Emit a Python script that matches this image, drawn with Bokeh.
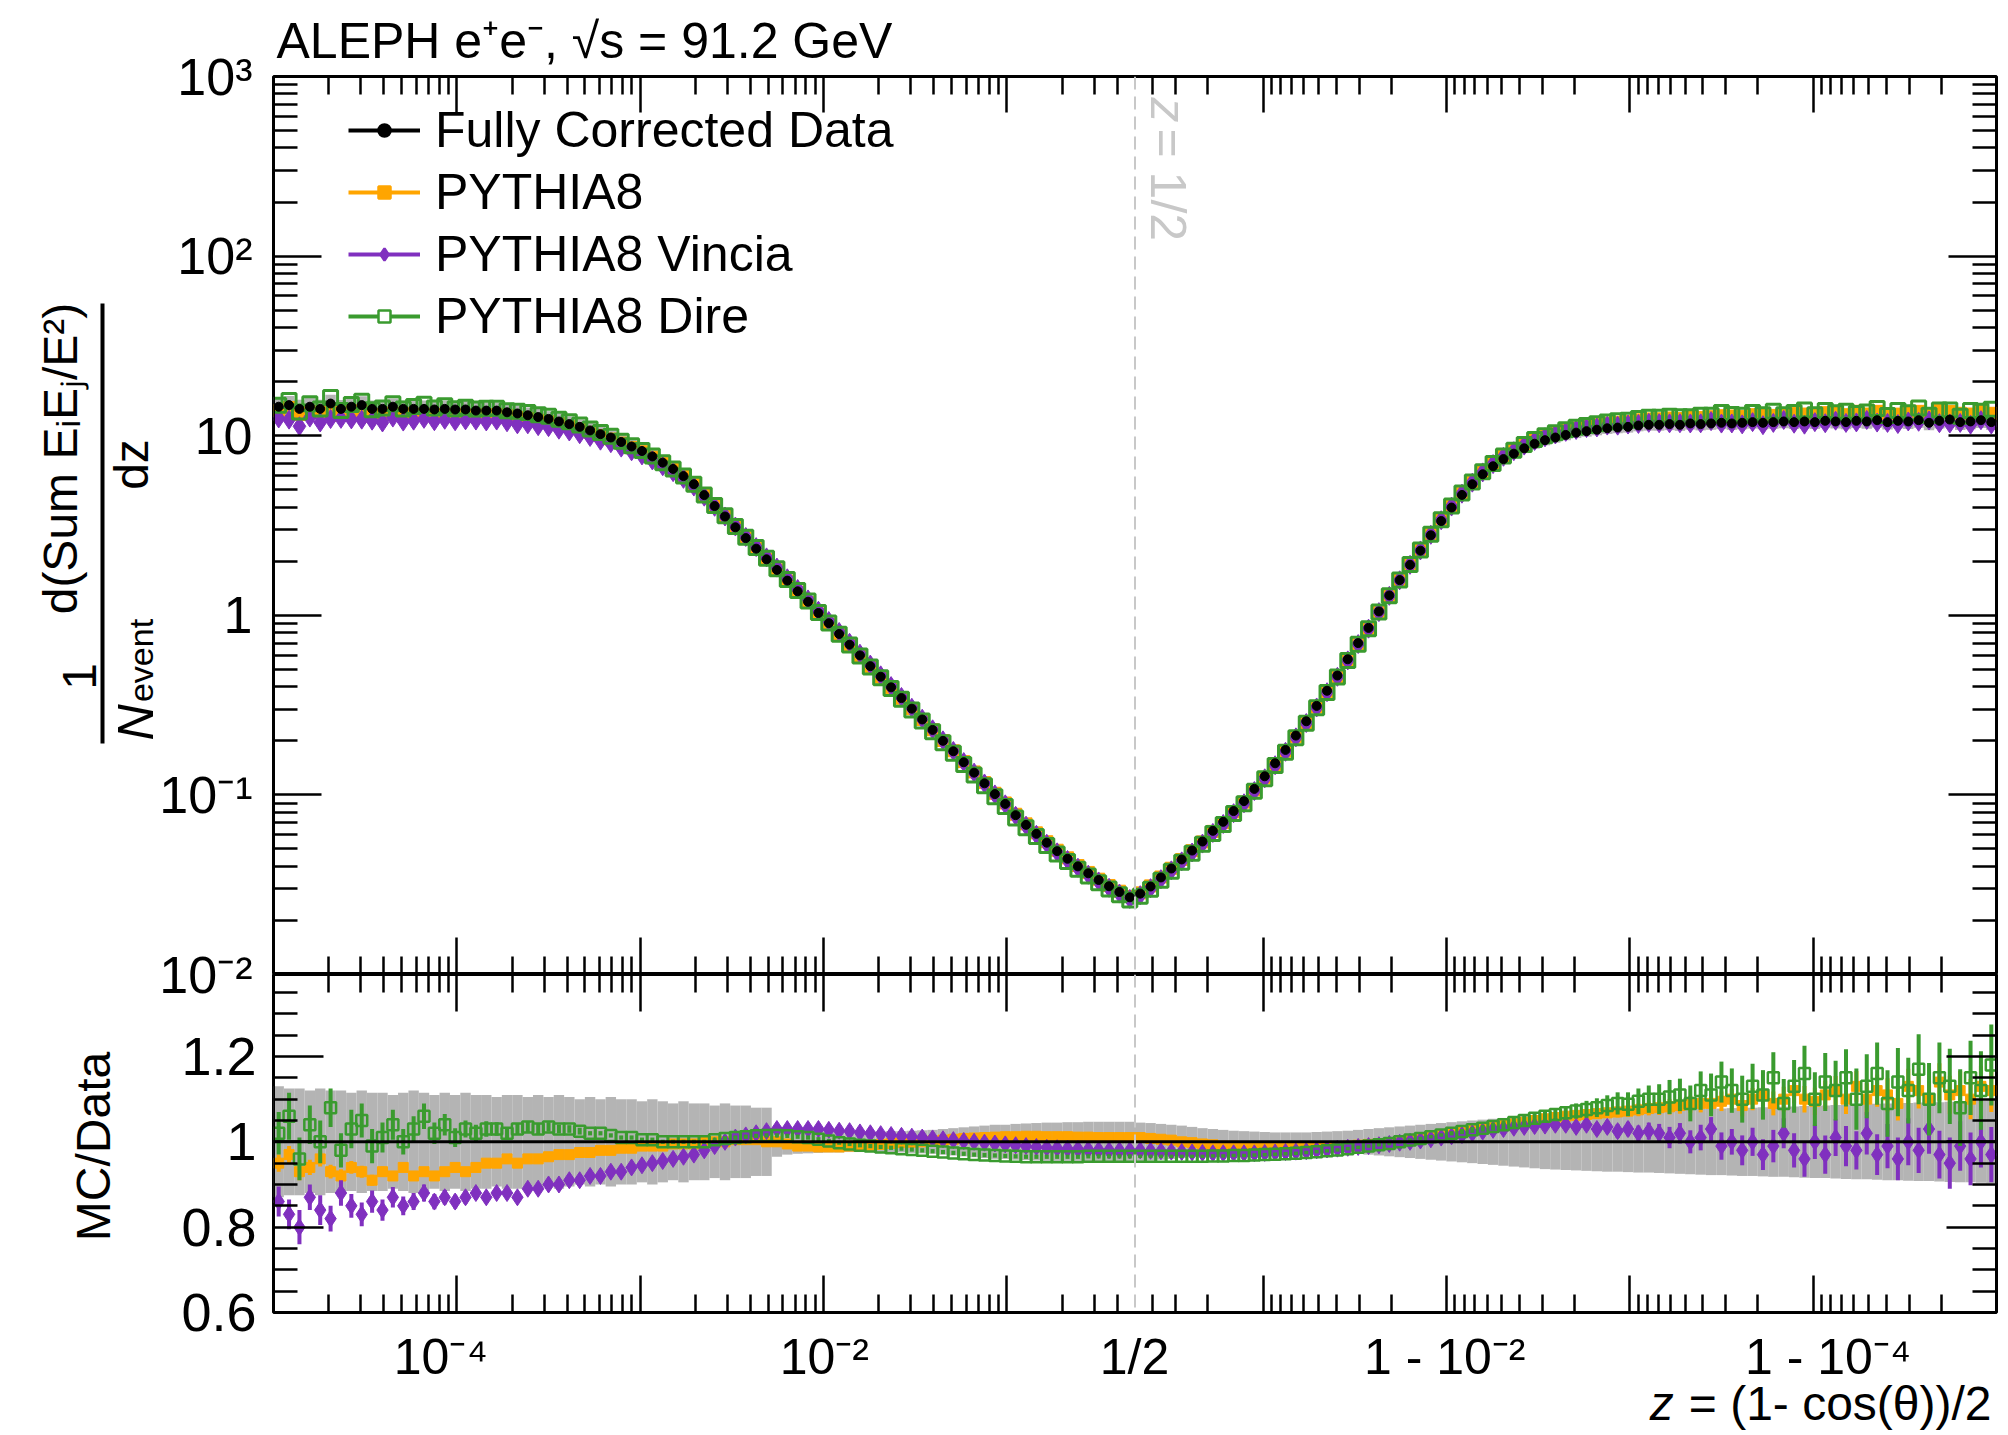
import numpy as np
from bokeh.plotting import figure
from bokeh.models import (Range1d, FixedTicker, LinearAxis, LogAxis, Label, Span,
                          Legend, LegendItem, CustomJSTickFormatter, ColumnDataSource)
from bokeh.layouts import column, row
from bokeh.embed import file_html
from bokeh.resources import INLINE

FONT = "Liberation Sans"

# ---------------- binning ----------------
Z_MIN = 1e-5          # lowest z edge
N_HALF = 83           # log bins on each side of z = 1/2

# ---------------- data ----------------
# left half: z from 1e-5 up to 1/2 ; right half: z from 1/2 up to 1-1e-5
data_left = [14.5, 14.8, 14.1, 14.5, 14.1, 15.1, 14.1, 14.5, 14.8, 14.1,
             14.1, 14.5, 14.1, 14.1, 14.1, 14.0, 14.1, 14.0, 14.0, 13.8,
             13.8, 13.8, 13.5, 13.3, 13.0, 12.7, 12.4, 12.0, 11.6, 11.2,
             10.7, 10.2, 9.77, 9.23, 8.71, 8.22, 7.67, 7.08, 6.53, 5.96,
             5.37, 4.67, 4.06, 3.55, 3.09, 2.69, 2.35, 2.05, 1.79, 1.56,
             1.36, 1.19, 1.03, 0.904, 0.787, 0.686, 0.598, 0.521, 0.455, 0.397,
             0.346, 0.302, 0.263, 0.230, 0.200, 0.175, 0.152, 0.133, 0.116, 0.101,
             0.0891, 0.0771, 0.0681, 0.0607, 0.0542, 0.0486, 0.0441, 0.0400, 0.0366, 0.0336,
             0.0310, 0.0288, 0.0269]
data_right = [0.0282, 0.0309, 0.0347, 0.0389, 0.0437, 0.0490, 0.0550, 0.0631, 0.0708, 0.0813,
              0.0923, 0.108, 0.127, 0.150, 0.178, 0.214, 0.257, 0.313, 0.380, 0.462,
              0.569, 0.700, 0.851, 1.05, 1.29, 1.57, 1.91, 2.29, 2.79, 3.35,
              3.98, 4.68, 5.37, 6.10, 6.76, 7.41, 7.94, 8.51, 9.02, 9.44,
              9.77, 10.1, 10.4, 10.6, 10.8, 11.0, 11.1, 11.2, 11.4, 11.5,
              11.5, 11.6, 11.5, 11.7, 11.6, 11.7, 11.8, 11.7, 11.8, 11.9,
              11.8, 11.9, 12.0, 11.9, 12.0, 11.9, 12.1, 12.0, 11.9, 12.1,
              12.0, 12.2, 11.9, 12.1, 12.0, 12.2, 11.8, 12.1, 12.3, 11.9,
              12.0, 12.2, 11.9]
# relative systematic uncertainty of the data (grey band)
band_left = [0.13, 0.125, 0.125, 0.12, 0.125, 0.12, 0.12, 0.115, 0.12, 0.115,
             0.115, 0.11, 0.115, 0.12, 0.115, 0.11, 0.115, 0.11, 0.115, 0.11,
             0.11, 0.105, 0.11, 0.11, 0.105, 0.11, 0.105, 0.11, 0.105, 0.10,
             0.105, 0.10, 0.105, 0.10, 0.10, 0.095, 0.10, 0.095, 0.09, 0.095,
             0.09, 0.09, 0.085, 0.09, 0.085, 0.085, 0.08, 0.08, 0.035, 0.03,
             0.028, 0.027, 0.026, 0.025, 0.025, 0.024, 0.024, 0.024, 0.024, 0.025,
             0.025, 0.026, 0.027, 0.028, 0.03, 0.032, 0.034, 0.036, 0.038, 0.04,
             0.04, 0.042, 0.043, 0.044, 0.045, 0.045, 0.046, 0.046, 0.047, 0.047,
             0.047, 0.047, 0.047]
band_right = [0.045, 0.044, 0.042, 0.04, 0.038, 0.035, 0.032, 0.03, 0.028, 0.026,
              0.025, 0.024, 0.023, 0.022, 0.022, 0.022, 0.022, 0.023, 0.024, 0.025,
              0.026, 0.028, 0.03, 0.032, 0.034, 0.036, 0.038, 0.04, 0.042, 0.044,
              0.046, 0.048, 0.05, 0.052, 0.054, 0.056, 0.058, 0.06, 0.062, 0.064,
              0.065, 0.066, 0.067, 0.068, 0.069, 0.07, 0.07, 0.071, 0.072, 0.072,
              0.073, 0.074, 0.075, 0.076, 0.077, 0.078, 0.078, 0.079, 0.08, 0.08,
              0.081, 0.082, 0.082, 0.083, 0.084, 0.085, 0.085, 0.086, 0.087, 0.088,
              0.088, 0.089, 0.09, 0.09, 0.091, 0.092, 0.092, 0.093, 0.094, 0.095,
              0.095, 0.096, 0.097]
# MC / Data ratios
p8_left = [0.95, 0.97, 0.93, 0.94, 0.96, 0.93, 0.92, 0.94, 0.93, 0.91,
           0.93, 0.92, 0.94, 0.92, 0.93, 0.92, 0.93, 0.94, 0.93, 0.94,
           0.95, 0.95, 0.96, 0.95, 0.96, 0.96, 0.965, 0.97, 0.97, 0.975,
           0.975, 0.98, 0.98, 0.985, 0.985, 0.99, 0.99, 0.99, 0.995, 0.995,
           0.995, 1.0, 1.0, 1.0, 1.005, 1.005, 1.005, 1.0, 1.0, 0.995,
           0.99, 0.99, 0.988, 0.988, 0.988, 0.99, 0.99, 0.992, 0.994, 0.996,
           0.998, 0.999, 1.0, 1.002, 1.004, 1.006, 1.008, 1.009, 1.01, 1.011,
           1.012, 1.012, 1.013, 1.013, 1.012, 1.012, 1.012, 1.011, 1.011, 1.01,
           1.01, 1.01, 1.01]
p8_right = [1.01, 1.008, 1.006, 1.004, 1.0, 0.998, 0.995, 0.993, 0.99, 0.99,
            0.988, 0.987, 0.986, 0.985, 0.985, 0.985, 0.985, 0.986, 0.987, 0.988,
            0.99, 0.992, 0.994, 0.996, 0.998, 1.0, 1.003, 1.006, 1.01, 1.014,
            1.018, 1.022, 1.026, 1.03, 1.034, 1.038, 1.042, 1.046, 1.05, 1.054,
            1.057, 1.06, 1.062, 1.064, 1.066, 1.068, 1.07, 1.072, 1.075, 1.078,
            1.08, 1.082, 1.085, 1.088, 1.09, 1.09, 1.095, 1.1, 1.085, 1.1,
            1.11, 1.09, 1.1, 1.12, 1.1, 1.095, 1.11, 1.12, 1.1, 1.13,
            1.1, 1.12, 1.11, 1.09, 1.13, 1.12, 1.1, 1.14, 1.11, 1.12,
            1.1, 1.13, 1.12]
vin_left = [0.86, 0.83, 0.80, 0.87, 0.84, 0.82, 0.88, 0.85, 0.83, 0.86,
            0.84, 0.87, 0.85, 0.86, 0.88, 0.86, 0.87, 0.86, 0.87, 0.88,
            0.87, 0.88, 0.88, 0.87, 0.89, 0.89, 0.90, 0.90, 0.91, 0.91,
            0.92, 0.92, 0.93, 0.93, 0.94, 0.945, 0.95, 0.955, 0.96, 0.965,
            0.97, 0.98, 0.99, 1.0, 1.01, 1.015, 1.02, 1.025, 1.03, 1.03,
            1.03, 1.03, 1.03, 1.028, 1.026, 1.025, 1.022, 1.02, 1.018, 1.016,
            1.014, 1.012, 1.01, 1.008, 1.006, 1.004, 1.002, 1.0, 0.998, 0.996,
            0.994, 0.992, 0.99, 0.988, 0.986, 0.985, 0.984, 0.983, 0.982, 0.981,
            0.98, 0.98, 0.98]
vin_right = [0.98, 0.979, 0.978, 0.977, 0.976, 0.975, 0.974, 0.973, 0.973, 0.973,
             0.973, 0.973, 0.974, 0.975, 0.976, 0.977, 0.978, 0.98, 0.982, 0.984,
             0.986, 0.988, 0.99, 0.992, 0.995, 0.998, 1.0, 1.003, 1.006, 1.01,
             1.013, 1.016, 1.02, 1.024, 1.028, 1.03, 1.033, 1.035, 1.037, 1.038,
             1.04, 1.04, 1.035, 1.04, 1.03, 1.035, 1.025, 1.03, 1.02, 1.025,
             1.02, 1.01, 1.02, 1.0, 1.01, 1.03, 0.99, 1.0, 0.98, 1.0,
             0.97, 0.99, 1.02, 0.98, 0.96, 1.0, 0.97, 1.01, 0.99, 0.98,
             1.02, 0.97, 0.99, 0.96, 1.0, 0.98, 1.03, 0.97, 0.95, 0.99,
             0.96, 1.0, 0.97]
dire_left = [1.02, 1.06, 0.96, 1.04, 1.0, 1.08, 0.98, 1.03, 1.05, 0.99,
             1.01, 1.04, 1.0, 1.03, 1.06, 1.02, 1.04, 1.01, 1.03, 1.02,
             1.03, 1.03, 1.02, 1.03, 1.035, 1.03, 1.035, 1.03, 1.03, 1.025,
             1.02, 1.02, 1.015, 1.01, 1.01, 1.005, 1.005, 1.0, 1.0, 1.0,
             1.0, 1.0, 1.005, 1.008, 1.01, 1.012, 1.014, 1.015, 1.015, 1.014,
             1.012, 1.01, 1.006, 1.002, 0.998, 0.995, 0.992, 0.99, 0.988, 0.986,
             0.984, 0.982, 0.98, 0.978, 0.976, 0.974, 0.972, 0.97, 0.969, 0.968,
             0.967, 0.966, 0.965, 0.965, 0.965, 0.965, 0.965, 0.965, 0.966, 0.966,
             0.966, 0.966, 0.966]
dire_right = [0.966, 0.966, 0.966, 0.966, 0.966, 0.966, 0.966, 0.967, 0.967, 0.968,
              0.968, 0.969, 0.97, 0.971, 0.972, 0.973, 0.975, 0.977, 0.979, 0.981,
              0.984, 0.987, 0.99, 0.993, 0.996, 1.0, 1.004, 1.008, 1.012, 1.016,
              1.02, 1.024, 1.028, 1.032, 1.036, 1.04, 1.045, 1.05, 1.055, 1.06,
              1.064, 1.068, 1.072, 1.076, 1.08, 1.085, 1.09, 1.088, 1.095, 1.10,
              1.1, 1.105, 1.11, 1.09, 1.12, 1.11, 1.14, 1.12, 1.1, 1.13,
              1.11, 1.15, 1.09, 1.13, 1.16, 1.1, 1.14, 1.12, 1.15, 1.1,
              1.13, 1.16, 1.09, 1.14, 1.12, 1.17, 1.1, 1.15, 1.13, 1.08,
              1.15, 1.12, 1.18]
# statistical errors on the ratios
err_p8_left = [0.02, 0.02, 0.02, 0.018, 0.018, 0.016, 0.016, 0.015, 0.014, 0.013,
               0.012, 0.011, 0.01, 0.01, 0.009, 0.009, 0.008, 0.008, 0.007, 0.007,
               0.006, 0.006, 0.006, 0.005, 0.005, 0.005, 0.005, 0.004, 0.004, 0.004,
               0.003, 0.003, 0.003, 0.003, 0.003, 0.003, 0.003, 0.003, 0.003, 0.003,
               0.003, 0.003, 0.003, 0.003, 0.003, 0.003, 0.003, 0.003, 0.003, 0.003,
               0.003, 0.003, 0.003, 0.003, 0.003, 0.003, 0.003, 0.003, 0.003, 0.003,
               0.003, 0.003, 0.003, 0.003, 0.003, 0.003, 0.003, 0.003, 0.003, 0.003,
               0.003, 0.003, 0.003, 0.003, 0.003, 0.003, 0.003, 0.003, 0.003, 0.003,
               0.003, 0.003, 0.003]
err_p8_right = [0.003, 0.003, 0.003, 0.003, 0.003, 0.003, 0.003, 0.003, 0.003, 0.003,
                0.003, 0.003, 0.003, 0.003, 0.003, 0.003, 0.003, 0.003, 0.003, 0.003,
                0.003, 0.003, 0.003, 0.003, 0.003, 0.003, 0.003, 0.003, 0.003, 0.003,
                0.004, 0.004, 0.005, 0.005, 0.005, 0.006, 0.006, 0.007, 0.007, 0.008,
                0.008, 0.009, 0.01, 0.01, 0.011, 0.012, 0.013, 0.014, 0.015, 0.016,
                0.017, 0.018, 0.019, 0.02, 0.021, 0.022, 0.023, 0.024, 0.025, 0.026,
                0.027, 0.028, 0.029, 0.03, 0.031, 0.032, 0.033, 0.034, 0.035, 0.036,
                0.037, 0.038, 0.039, 0.04, 0.041, 0.042, 0.043, 0.044, 0.045, 0.046,
                0.047, 0.048, 0.05]
err_vin_left = [0.035, 0.035, 0.04, 0.03, 0.035, 0.03, 0.03, 0.028, 0.028, 0.026,
                0.025, 0.024, 0.022, 0.02, 0.02, 0.018, 0.017, 0.016, 0.015, 0.014,
                0.013, 0.012, 0.011, 0.01, 0.01, 0.009, 0.008, 0.008, 0.007, 0.007,
                0.004, 0.004, 0.004, 0.004, 0.004, 0.004, 0.004, 0.004, 0.004, 0.004,
                0.004, 0.004, 0.004, 0.004, 0.004, 0.004, 0.004, 0.004, 0.004, 0.004,
                0.004, 0.004, 0.004, 0.004, 0.004, 0.004, 0.004, 0.004, 0.004, 0.004,
                0.004, 0.004, 0.004, 0.004, 0.004, 0.004, 0.004, 0.004, 0.004, 0.004,
                0.004, 0.004, 0.004, 0.004, 0.004, 0.004, 0.004, 0.004, 0.004, 0.004,
                0.004, 0.004, 0.004]
err_vin_right = [0.003, 0.003, 0.003, 0.003, 0.003, 0.003, 0.003, 0.003, 0.003, 0.003,
                 0.003, 0.003, 0.003, 0.003, 0.003, 0.003, 0.003, 0.003, 0.003, 0.003,
                 0.003, 0.003, 0.003, 0.003, 0.003, 0.003, 0.003, 0.003, 0.003, 0.003,
                 0.004, 0.004, 0.005, 0.005, 0.006, 0.006, 0.007, 0.008, 0.008, 0.009,
                 0.01, 0.011, 0.012, 0.013, 0.014, 0.015, 0.016, 0.017, 0.018, 0.02,
                 0.022, 0.025, 0.024, 0.027, 0.03, 0.028, 0.032, 0.03, 0.035, 0.033,
                 0.036, 0.038, 0.035, 0.04, 0.042, 0.04, 0.045, 0.043, 0.047, 0.045,
                 0.05, 0.048, 0.052, 0.05, 0.055, 0.053, 0.058, 0.056, 0.06, 0.058,
                 0.062, 0.06, 0.065]
err_dire_left = [0.05, 0.055, 0.05, 0.045, 0.05, 0.045, 0.04, 0.045, 0.04, 0.04,
                 0.035, 0.035, 0.03, 0.03, 0.03, 0.025, 0.025, 0.022, 0.02, 0.02,
                 0.018, 0.016, 0.015, 0.014, 0.013, 0.012, 0.011, 0.01, 0.009, 0.008,
                 0.005, 0.005, 0.005, 0.005, 0.005, 0.005, 0.005, 0.005, 0.005, 0.005,
                 0.005, 0.005, 0.005, 0.005, 0.005, 0.005, 0.005, 0.005, 0.005, 0.005,
                 0.005, 0.005, 0.005, 0.005, 0.005, 0.005, 0.005, 0.005, 0.005, 0.005,
                 0.005, 0.005, 0.005, 0.005, 0.005, 0.005, 0.005, 0.005, 0.005, 0.005,
                 0.005, 0.005, 0.005, 0.005, 0.005, 0.005, 0.005, 0.005, 0.005, 0.005,
                 0.005, 0.005, 0.005]
err_dire_right = [0.004, 0.004, 0.004, 0.004, 0.004, 0.004, 0.004, 0.004, 0.004, 0.004,
                  0.004, 0.004, 0.004, 0.004, 0.004, 0.004, 0.004, 0.004, 0.004, 0.004,
                  0.004, 0.004, 0.004, 0.004, 0.004, 0.004, 0.004, 0.004, 0.004, 0.004,
                  0.005, 0.006, 0.007, 0.008, 0.009, 0.01, 0.011, 0.012, 0.013, 0.014,
                  0.015, 0.016, 0.018, 0.02, 0.022, 0.024, 0.026, 0.028, 0.03, 0.032,
                  0.035, 0.04, 0.038, 0.042, 0.045, 0.05, 0.048, 0.052, 0.055, 0.053,
                  0.058, 0.06, 0.057, 0.062, 0.065, 0.063, 0.068, 0.07, 0.067, 0.072,
                  0.075, 0.073, 0.078, 0.08, 0.077, 0.082, 0.085, 0.083, 0.088, 0.09,
                  0.087, 0.092, 0.095]

# axis text
y_up_ticks = [1e-2, 1e-1, 1, 10, 100, 1000]
y_up_labels = ["10\u207b\u00b2", "10\u207b\u00b9", "1", "10", "10\u00b2", "10\u00b3"]
y_lo_ticks = [0.6, 0.8, 1.0, 1.2]
y_lo_labels = ["0.6", "0.8", "1", "1.2"]
x_tick_label_z = [1e-4, 1e-2, 0.5, 1 - 1e-2, 1 - 1e-4]
x_tick_label_text = ["10\u207b\u2074", "10\u207b\u00b2", "1/2", "1 - 10\u207b\u00b2", "1 - 10\u207b\u2074"]
legend_labels = ["Fully Corrected Data", "PYTHIA8", "PYTHIA8 Vincia", "PYTHIA8 Dire"]

C_BAND = "#b4b4b4"
C_P8 = "#ffa500"
C_VIN = "#8030bf"
C_DIRE = "#3a9b2f"


# ---------------- double-log coordinate ----------------
def zt(z):
    z = np.atleast_1d(np.asarray(z, dtype=float))
    out = np.empty_like(z)
    lo_ = z <= 0.5
    out[lo_] = np.log10(z[lo_])
    out[~lo_] = 2 * np.log10(0.5) - np.log10(1.0 - z[~lo_])
    return out


edges_left = np.logspace(np.log10(Z_MIN), np.log10(0.5), N_HALF + 1)
edges_right = 1.0 - edges_left[::-1]
z_edges = np.concatenate([edges_left, edges_right[1:]])
t_edges = zt(z_edges)
t_lo, t_hi = t_edges[:-1], t_edges[1:]
t_c = 0.5 * (t_lo + t_hi)

T_MIN = float(zt(Z_MIN)[0])
T_MAX = float(zt(1 - Z_MIN)[0])

data = np.array(data_left + data_right)
band = np.array(band_left + band_right)
r_p8 = np.array(p8_left + p8_right)
r_vin = np.array(vin_left + vin_right)
r_dire = np.array(dire_left + dire_right)
e_p8 = np.array(err_p8_left + err_p8_right)
e_vin = np.array(err_vin_left + err_vin_right)
e_dire = np.array(err_dire_left + err_dire_right)

src = ColumnDataSource(dict(
    x=t_c, l=t_lo, r=t_hi, data=data,
    d_lo=data * (1 - band), d_hi=data * (1 + band),
    b_lo=1 - band, b_hi=1 + band,
    p8=data * r_p8, vin=data * r_vin, dire=data * r_dire,
    rp8=r_p8, rvin=r_vin, rdire=r_dire,
    rp8_lo=r_p8 - e_p8, rp8_hi=r_p8 + e_p8,
    rvin_lo=r_vin - e_vin, rvin_hi=r_vin + e_vin,
    rdire_lo=r_dire - e_dire, rdire_hi=r_dire + e_dire,
))

# ticks of the double-log x axis
maj_z = [10.0 ** k for k in range(-5, 0)] + [1 - 10.0 ** k for k in range(-1, -6, -1)]
min_z = []
for k in range(-5, 0):
    for m in range(2, 10):
        v = m * 10.0 ** k
        if v < 0.5:
            min_z += [v, 1 - v]
x_ticker = FixedTicker(ticks=list(zt(maj_z)), minor_ticks=list(zt(min_z)))

# ---------------- page geometry (pixels of the page) ----------------
PAGE_L, PAGE_T = 0, 0
PAGE_R, PAGE_B = 2000, 1433
FL, FR = 273, 1996          # frame left / right
UT, UB, LB = 76, 974, 1312  # upper frame top, panels boundary, lower frame bottom
TOP_END = UT - 2            # end of the title strip
GUT_R = FL - 3              # right end of the left gutter
LOW_END = LB + 2
FW = FR - FL
UH = UB - UT
LH = LB - UB
LO_MIN, LO_MAX = 0.6, 0.6 + LH / 426.7


def tx(px):
    """page x -> double-log coordinate"""
    return T_MIN + (px - FL) * (T_MAX - T_MIN) / FW


def up_py(v):
    """value on the upper log axis -> page y"""
    return UT + (3 - np.log10(v)) * UH / 5.0


def lo_py(r):
    """value on the ratio axis -> page y"""
    return UB + (LO_MAX - r) * LH / (LO_MAX - LO_MIN)


BLANK = CustomJSTickFormatter(code="return '';")


def style_axis(ax, tin, tmin, fixed):
    ax.major_tick_in = tin
    ax.major_tick_out = 0
    ax.minor_tick_in = tmin
    ax.minor_tick_out = 0
    ax.major_tick_line_width = 2.5
    ax.minor_tick_line_width = 2.5
    ax.axis_line_width = 3
    ax.formatter = BLANK
    ax.major_label_text_font_size = "1px"
    ax.major_label_standoff = 0
    ax.fixed_location = fixed


def blank_fig(w, h, xr, yr):
    f = figure(width=w, height=h, x_range=xr, y_range=yr, min_border=0, title=None,
               x_axis_location=None, y_axis_location=None,
               output_backend="svg", toolbar_location=None)
    f.outline_line_color = None
    f.grid.visible = False
    return f


def text(f, x, y, s, size, align="center", baseline="middle", angle=0.0,
         style="normal", color="black"):
    f.add_layout(Label(x=x, y=y, text=s, text_align=align, text_baseline=baseline,
                       angle=angle, text_font=FONT, text_font_size=size,
                       text_font_style=style, text_color=color))


# ---------------- upper panel ----------------
up = figure(width=PAGE_R - GUT_R, height=UB - TOP_END, title=None,
            x_range=Range1d(T_MIN, T_MAX), y_range=Range1d(1e-2, 1e3),
            y_axis_type="log", output_backend="svg", toolbar_location=None,
            min_border_left=FL - GUT_R, min_border_right=PAGE_R - FR,
            min_border_top=UT - TOP_END, min_border_bottom=0)
up.grid.visible = False
up.outline_line_color = "black"
up.outline_line_width = 3
y_up_ticker = FixedTicker(ticks=y_up_ticks,
                          minor_ticks=[m * 10.0 ** k for k in range(-2, 3) for m in range(2, 10)])
up.xaxis.ticker = x_ticker
style_axis(up.xaxis[0], 37, 18, 1e-2)
up.yaxis.ticker = y_up_ticker
style_axis(up.yaxis[0], 48, 24, T_MIN)
ax_top = LinearAxis(ticker=x_ticker)
style_axis(ax_top, 36, 18, 1e3)
up.add_layout(ax_top, "above")
ax_r = LogAxis(ticker=y_up_ticker)
style_axis(ax_r, 48, 24, T_MAX)
up.add_layout(ax_r, "right")

up.quad(left="l", right="r", bottom="d_lo", top="d_hi", source=src,
        fill_color=C_BAND, line_color=None)
up.scatter("x", "p8", source=src, marker="square", size=12, color=C_P8)
up.scatter("x", "vin", source=src, marker="diamond", size=19, color=C_VIN)
up.scatter("x", "dire", source=src, marker="square", size=14, fill_color=None,
           line_color=C_DIRE, line_width=3)
up.scatter("x", "data", source=src, marker="circle", size=9, color="black")

t_half = float(zt(0.5)[0])
up.add_layout(Span(location=t_half, dimension="height", line_color="#c8c8c8",
                   line_dash="13 7", line_width=2))
text(up, tx(1167), 10 ** (3 - (97 - UT) * 5.0 / UH), "z", "50px", align="left",
     angle=-np.pi / 2, style="italic", color="#c8c8c8")
text(up, tx(1167), 10 ** (3 - (128 - UT) * 5.0 / UH), "= 1/2", "50px", align="left",
     angle=-np.pi / 2, color="#c8c8c8")

# legend: renderers holding one point outside the visible range provide the glyphs
leg_specs = [("black", "circle", "black", 12), (C_P8, "square", C_P8, 12),
             (C_VIN, "diamond", C_VIN, 18), (C_DIRE, "square", "white", 12)]
items = []
for lab, (col, mk, fill, sz) in zip(legend_labels, leg_specs):
    lsrc = ColumnDataSource(dict(x=[T_MIN - 5.0], y=[1.0]))
    lr = up.line(x="x", y="y", source=lsrc, line_color=col, line_width=4)
    sr = up.scatter(x="x", y="y", source=lsrc, marker=mk, size=sz, line_color=col,
                    fill_color=fill, line_width=2.5)
    items.append(LegendItem(label=lab, renderers=[lr, sr]))
legend = Legend(items=items, location=(75, 629), glyph_width=72, glyph_height=30,
                label_text_font_size="50px", label_text_font=FONT, label_text_color="black",
                label_standoff=15, spacing=4, padding=0, margin=0, border_line_alpha=0,
                background_fill_alpha=0)
up.add_layout(legend)

# ---------------- lower (ratio) panel ----------------
lo = figure(width=PAGE_R - GUT_R, height=LOW_END - UB, title=None,
            x_range=up.x_range, y_range=Range1d(LO_MIN, LO_MAX),
            output_backend="svg", toolbar_location=None,
            min_border_left=FL - GUT_R, min_border_right=PAGE_R - FR, min_border_top=0,
            min_border_bottom=LOW_END - LB)
lo.grid.visible = False
lo.outline_line_color = "black"
lo.outline_line_width = 3
y_lo_ticker = FixedTicker(ticks=y_lo_ticks,
                          minor_ticks=[0.65, 0.7, 0.75, 0.85, 0.9, 0.95, 1.05, 1.1,
                                       1.15, 1.25, 1.3, 1.35])
lo.xaxis.ticker = x_ticker
style_axis(lo.xaxis[0], 37, 18, LO_MIN)
lo.yaxis.ticker = y_lo_ticker
style_axis(lo.yaxis[0], 50, 24, T_MIN)
ax_top2 = LinearAxis(ticker=x_ticker)
style_axis(ax_top2, 37, 18, LO_MAX)
lo.add_layout(ax_top2, "above")
ax_r2 = LinearAxis(ticker=y_lo_ticker)
style_axis(ax_r2, 50, 24, T_MAX)
lo.add_layout(ax_r2, "right")

lo.quad(left="l", right="r", bottom="b_lo", top="b_hi", source=src,
        fill_color=C_BAND, line_color=None)
lo.segment("x", "rp8_lo", "x", "rp8_hi", source=src, line_color=C_P8, line_width=4)
lo.scatter("x", "rp8", source=src, marker="square", size=10, color=C_P8)
lo.segment("x", "rvin_lo", "x", "rvin_hi", source=src, line_color=C_VIN, line_width=4)
lo.scatter("x", "rvin", source=src, marker="diamond", size=17, color=C_VIN)
lo.segment("x", "rdire_lo", "x", "rdire_hi", source=src, line_color=C_DIRE, line_width=4)
lo.scatter("x", "rdire", source=src, marker="square", size=11, fill_color="white",
           fill_alpha=0, line_color=C_DIRE, line_width=2.5)
lo.add_layout(Span(location=1.0, dimension="width", line_color="black", line_width=3))
lo.add_layout(Span(location=t_half, dimension="height", line_color="#c8c8c8",
                   line_dash="13 7", line_width=2))

# ---------------- text areas around the panels ----------------
gut = blank_fig(GUT_R - PAGE_L, PAGE_B - PAGE_T, Range1d(PAGE_L, GUT_R), Range1d(PAGE_B, PAGE_T))
top = blank_fig(PAGE_R - GUT_R, TOP_END - PAGE_T, Range1d(tx(GUT_R), tx(PAGE_R)),
                Range1d(TOP_END, PAGE_T))
bot = blank_fig(PAGE_R - GUT_R, PAGE_B - LOW_END, Range1d(tx(GUT_R), tx(PAGE_R)),
                Range1d(PAGE_B, LOW_END))

# title
text(top, tx(FL), 40, "ALEPH e\u207ae\u207b, \u221as = 91.2 GeV", "50px", align="left")

# y tick labels
for v, s in zip(y_up_ticks, y_up_labels):
    text(gut, 252, up_py(v), s, "52px", align="right")
for v, s in zip(y_lo_ticks, y_lo_labels):
    text(gut, 256, lo_py(v), s, "54px", align="right")

# y axis titles
text(gut, 60, 458, "d(Sum E\u1d62E\u2c7c/E\u00b2)", "48px", angle=np.pi / 2)
text(gut, 131, 464, "dz", "48px", angle=np.pi / 2)
text(gut, 79, 676, "1", "48px", angle=np.pi / 2)
text(gut, 135, 722, "N", "50px", angle=np.pi / 2, style="italic")
text(gut, 140, 660, "event", "34px", angle=np.pi / 2)
gut.segment(x0=[102], y0=[303], x1=[102], y1=[743], line_width=4, line_color="black")
text(gut, 93, 1146, "MC/Data", "48px", angle=np.pi / 2)

# x tick labels and x title
offs = [-0.1, 0.0, 0.0, 0.0, 0.1]
for zz, s, dx in zip(x_tick_label_z, x_tick_label_text, offs):
    text(bot, float(zt(zz)[0]) + dx, 1328, s, "50px", baseline="top")
text(bot, tx(1995), 1376, "= (1- cos(\u03b8))/2", "48px", align="right", baseline="top")
text(bot, tx(1676), 1376, "z", "48px", align="right", baseline="top", style="italic")

layout = row(gut, column(top, up, lo, bot))
open("out.html", "w").write(file_html(layout, INLINE))
